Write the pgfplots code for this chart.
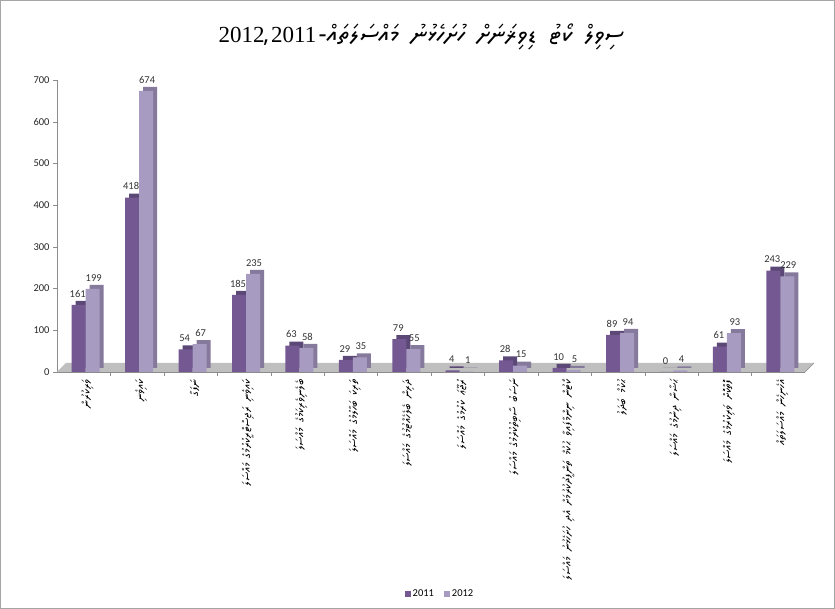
\documentclass[border=0pt]{standalone}
\usepackage{fontspec}
\usepackage{pgfplots}
\usepackage{pgfplotstable}
\pgfplotsset{compat=1.18}
\TeXXeTstate=1
\setmainfont{Carlito}
\newfontfamily\yr{Liberation Serif}
\IfFontExistsTF{Noto Sans Thaana}
  {\def\thaana{Noto Sans Thaana}}
  {\IfFontExistsTF{FreeSerif}{\def\thaana{FreeSerif}}{\def\thaana{DejaVu Sans}}}
\newfontfamily\dv[Script=Thaana]{\thaana}
\newfontfamily\dvt[Script=Thaana, WordSpace=1.8]{\thaana}

\definecolor{darkbar}{HTML}{735892}
\definecolor{darkside}{HTML}{5B4876}
\definecolor{lightbar}{HTML}{A89BC1}
\definecolor{lightside}{HTML}{867A9C}

% cases per category, 2011 and 2012
\pgfplotstableread{
x y11 y12
1 161 199
2 418 674
3 54 67
4 185 235
5 63 58
6 29 35
7 79 55
8 4 1
9 28 15
10 10 5
11 89 94
12 0 4
13 61 93
14 243 229
}\casedata

\newcommand{\rl}[1]{\beginR #1\endR}

\begin{document}
\begin{tikzpicture}[x=1pt,y=1pt]
\useasboundingbox (0,0) rectangle (835,609);
\draw[black!35] (0.5,0.5) rectangle (834.5,608.5);
\node at (421,572) {{\yr\fontsize{23}{26}\selectfont 2012{\dv ،}2011}\ {\dvt\fontsize{25}{28}\selectfont\rl{ސިވިލް ކޯޓު ޑިވިޜަނަށް ހުށަހެޅުނު މައްސަލަތައް-}}};

\begin{axis}[
    at={(57pt,237pt)}, anchor=south west,
    scale only axis, width=748pt, height=292pt,
    xmin=0.5, xmax=14.5, ymin=0, ymax=700,
    ytick={0,100,...,700},
    xtick={1,...,14},
    minor xtick={1.5,2.5,...,13.5},
    major x tick style={draw=none},
    xticklabels={
      {\rl{ވަރިކުރުން}},
      {\rl{ކައިވެނި}},
      {\rl{ނަފަގާ}},
      {\rl{ކައިވެނި ރަޖިސްޓްރީކުރުމުގެ މައްސަލަ}},
      {\rl{ބެލެނިވެރިކަމުގެ މައްސަލަ}},
      {\rl{ތަރިކަ ބަހާލުމުގެ މައްސަލަ}},
      {\rl{ދަރިން ބެލެހެއްޓުމުގެ މައްސަލަ}},
      {\rl{ރުޖޫޢަ ކުރުމުގެ މައްސަލަ}},
      {\rl{ނަސަބު ސާބިތުކުރުމުގެ މައްސަލަ}},
      {\rl{ކޯޓުން ނިންމާފައިވާ ޙުކުމް ތަންފީޛުކުރުމަށް އެދި ހުށަހެޅުނު މައްސަލަ}},
      {\rl{ޙުކުމް ބަދަލު}},
      {\rl{ޙަޟާނާ ދިނުމުގެ މައްސަލަ}},
      {\rl{ފޮތްކޮށް ވަރިކުރުމުގެ މައްސަލަ}},
      {\rl{އެހެނިހެން މައްސަލަތައް}}},
    x tick label style={rotate=90, anchor=east, yshift=-4pt,
      font=\dv\fontsize{11.5}{13}\selectfont},
    y tick label style={font=\fontsize{10.5}{12}\selectfont, text=black!85},
    /pgf/number format/assume math mode=true,
    axis x line*=bottom, axis y line*=left,
    axis line style={black!45}, tick style={black!45},
    tick align=outside, major tick length=4pt, minor tick length=4pt,
    clip=false,
    legend style={at={(0.512,-0.76)}, anchor=center, draw=none,
      legend columns=2, font=\fontsize{10.5}{12}\selectfont,
      /tikz/every even column/.append style={column sep=8pt}},
    nodes near coords style={font=\fontsize{10.5}{12}\selectfont, text=black!80,
      anchor=south, yshift=7pt, inner sep=0.5pt},
]
% floor
\fill[black!25] (axis cs:0.5,0) -- (axis cs:14.5,0) -- ([shift={(9pt,9pt)}]axis cs:14.5,0)
  -- ([shift={(9pt,9pt)}]axis cs:0.5,0) -- cycle;
\draw[black!45] (axis cs:14.5,0) -- ([shift={(9pt,9pt)}]axis cs:14.5,0);

% 2011
\addplot[ybar, bar width=14pt, bar shift=-5pt, xshift=4pt, yshift=4pt,
  fill=darkside, draw=none, forget plot] table[x=x, y=y11] {\casedata};
\addplot[ybar, bar width=14pt, bar shift=-5pt, fill=darkbar, draw=none,
  nodes near coords, every node near coord/.append style={xshift=-6pt},
  legend image code/.code={\fill[darkbar] (0pt,-3pt) rectangle (6pt,3pt);}]
  table[x=x, y=y11] {\casedata};
\addlegendentry{2011}
% 2012
\addplot[ybar, bar width=14pt, bar shift=9pt, xshift=4pt, yshift=4pt,
  fill=lightside, draw=none, forget plot] table[x=x, y=y12] {\casedata};
\addplot[ybar, bar width=14pt, bar shift=9pt, fill=lightbar, draw=none,
  nodes near coords, every node near coord/.append style={xshift=10pt},
  legend image code/.code={\fill[lightbar] (0pt,-3pt) rectangle (6pt,3pt);}]
  table[x=x, y=y12] {\casedata};
\addlegendentry{2012}
\end{axis}
\end{tikzpicture}
\end{document}
